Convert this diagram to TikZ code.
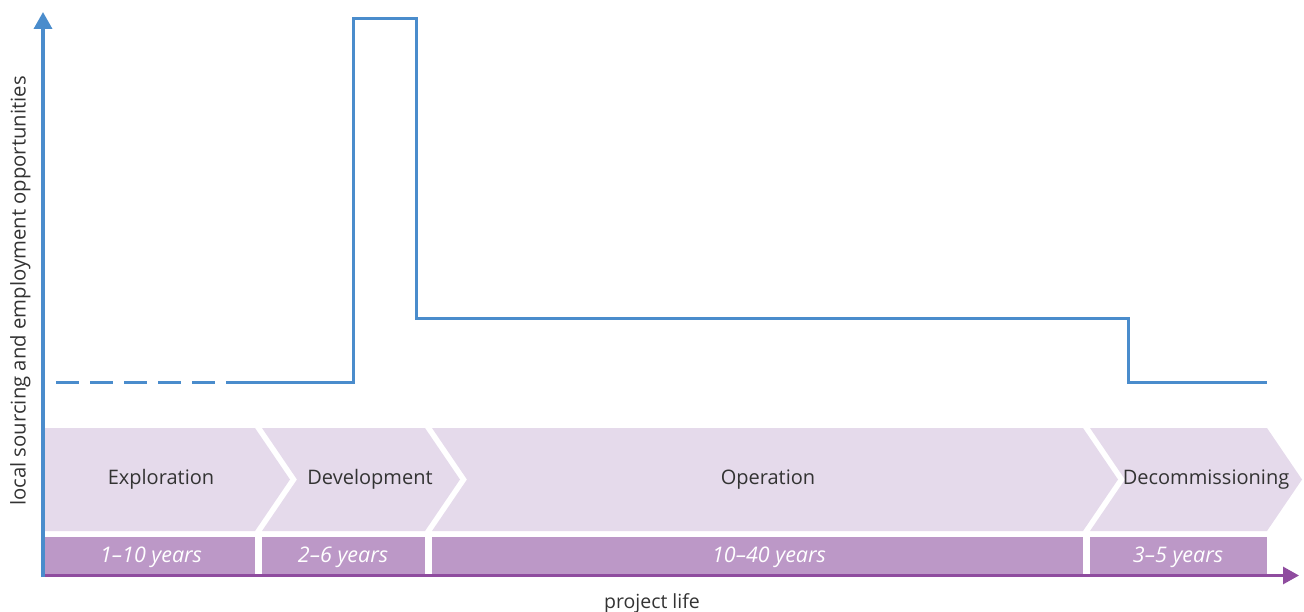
\documentclass[tikz,border=0pt]{standalone}
\usepackage{fontspec}
\setmainfont{Open Sans}
\usetikzlibrary{arrows.meta}

\definecolor{lineblue}{HTML}{4A8CCC}
\definecolor{axispurple}{HTML}{8F4C9F}
\definecolor{phasefill}{HTML}{E5DAEB}
\definecolor{yearfill}{HTML}{BC98C7}
\definecolor{labeltext}{HTML}{333333}

\tikzset{
  phase/.style={fill=phasefill, draw=none},
  yearbar/.style={fill=yearfill, draw=none},
  phasetext/.style={text=labeltext, font=\fontsize{20}{24}\selectfont, inner sep=0pt},
  yeartext/.style={text=white, font=\fontsize{21.5}{24}\selectfont\itshape, inner sep=0pt},
  axistext/.style={text=labeltext, font=\fontsize{19.5}{24}\selectfont, inner sep=0pt},
  ytext/.style={text=labeltext, font=\fontsize{20.3}{24}\selectfont, inner sep=0pt},
  profile/.style={draw=lineblue, line width=3pt, line join=miter},
}

\begin{document}
\begin{tikzpicture}[x=1pt, y=-1pt]
\useasboundingbox (0,0) rectangle (1304,612);

% phase chevrons (top band)
\def\tp{428}\def\bt{531}\def\md{479.5}\def\dp{35}
\fill[phase] (45,\tp) -- (255,\tp) -- (255+\dp,\md) -- (255,\bt) -- (45,\bt) -- cycle;
\fill[phase] (262,\tp) -- (425,\tp) -- (425+\dp,\md) -- (425,\bt) -- (262,\bt) -- (262+\dp,\md) -- cycle;
\fill[phase] (432,\tp) -- (1083,\tp) -- (1083+\dp,\md) -- (1083,\bt) -- (432,\bt) -- (432+\dp,\md) -- cycle;
\fill[phase] (1090,\tp) -- (1267,\tp) -- (1267+\dp,\md) -- (1267,\bt) -- (1090,\bt) -- (1090+\dp,\md) -- cycle;

% duration bars (bottom band)
\fill[yearbar] (45,537) rectangle (255,574);
\fill[yearbar] (262,537) rectangle (425,574);
\fill[yearbar] (432,537) rectangle (1083,574);
\fill[yearbar] (1090,537) rectangle (1267,574);

% phase names
\node[phasetext] (explo) at (161,477) {Exploration};
\node[phasetext] (devel) at (370,477) {Development};
\node[phasetext] (oper)  at (768,477) {Operation};
\node[phasetext] (decom) at (1206,477) {Decommissioning};

% durations
\node[yeartext] (yexplo) at (151,555) {1–10 years};
\node[yeartext] (ydevel) at (343,555) {2–6 years};
\node[yeartext] (yoper)  at (769,555) {10–40 years};
\node[yeartext] (ydecom) at (1178,555) {3–5 years};

% level of local opportunities over the project life
\coordinate (p0) at (56,382);
\coordinate (p1) at (228,382);
\coordinate (p2) at (353,382);
\coordinate (p3) at (353,19);
\coordinate (p4) at (416,19);
\coordinate (p5) at (416,319);
\coordinate (p6) at (1128,319);
\coordinate (p7) at (1128,382);
\coordinate (p8) at (1267,382);
\draw[profile, dash pattern=on 23pt off 11pt] (p0) -- (p1);
\draw[profile] (p1) -- (p2) -- (p3) -- (p4) -- (p5) -- (p6) -- (p7) -- (p8);

% axes
\coordinate (xo) at (43,575.5);
\coordinate (xend) at (1299,575.5);
\coordinate (yo) at (43,577);
\coordinate (yend) at (43,12);
\draw[axispurple, line width=3pt, -{Triangle[length=16pt,width=17pt]}] (xo) -- (xend);
\draw[lineblue, line width=3.5pt, -{Triangle[length=17pt,width=18pt]}] (yo) -- (yend);

\node[axistext] (xlabel) at (652,601) {project life};
\node[ytext, rotate=90] (ylabel) at (18,291) {local sourcing and employment opportunities};
\end{tikzpicture}
\end{document}
